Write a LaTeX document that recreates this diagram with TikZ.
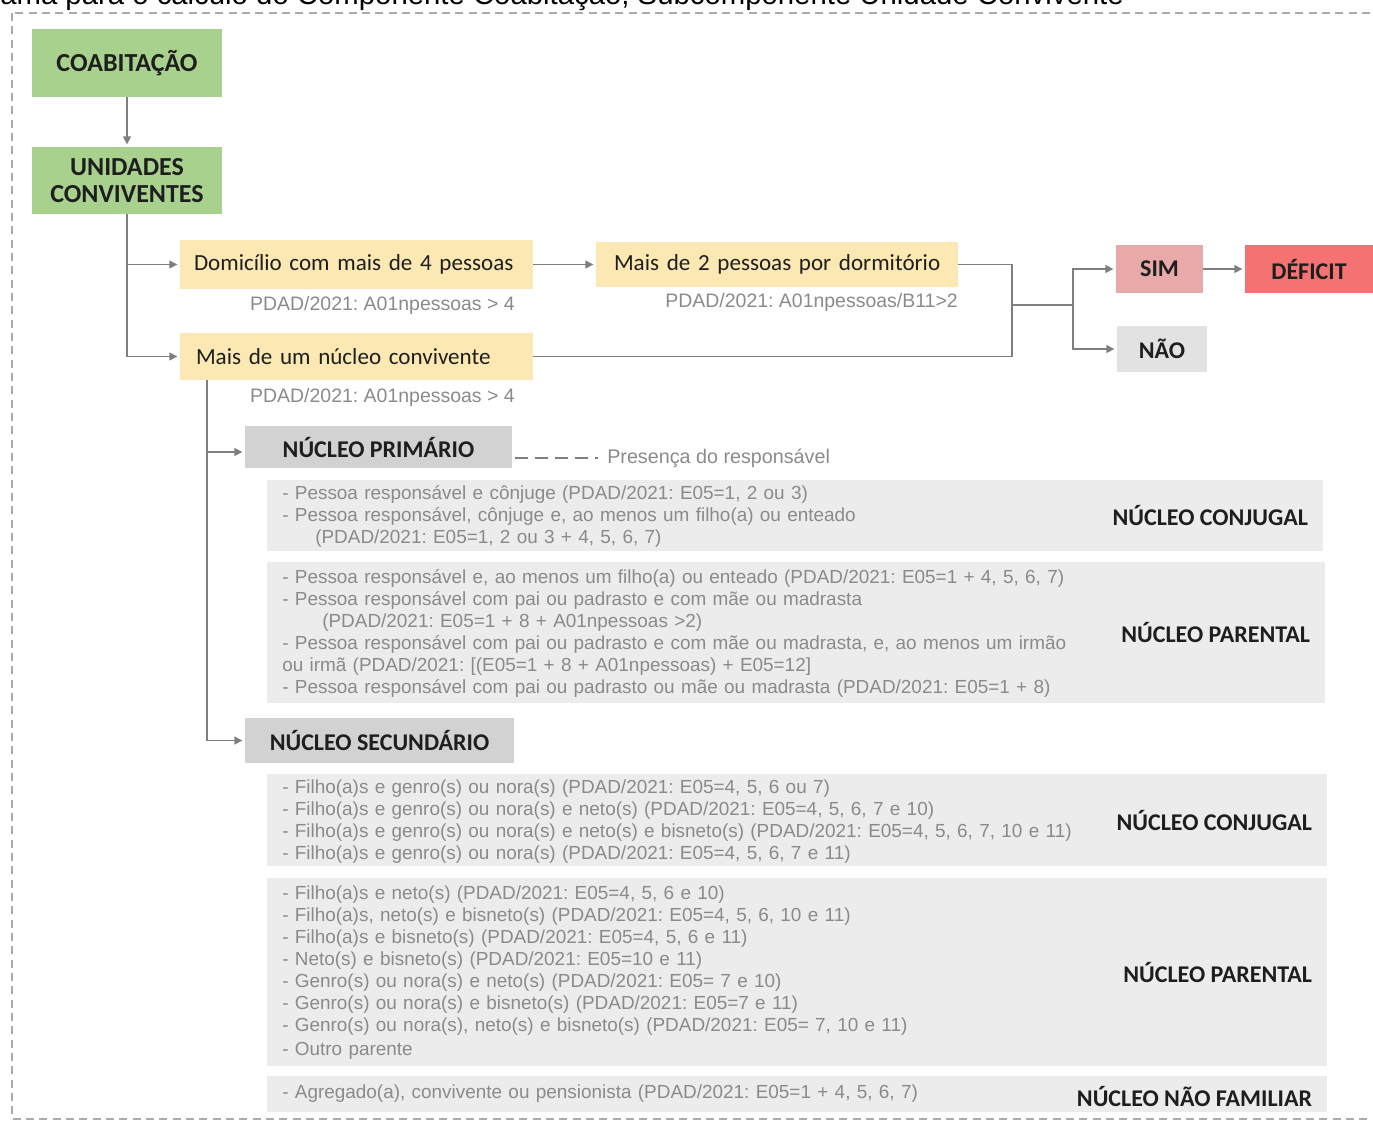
\documentclass[tikz,border=0pt]{standalone}
\usepackage{fontspec}
\setmainfont{Carlito}
\newfontfamily\narrowfont{Liberation Sans}
\newfontfamily\titlefont{Liberation Sans}
\usetikzlibrary{arrows.meta,calc}

\definecolor{boxgreen}{HTML}{A9D18E}
\definecolor{boxyellow}{HTML}{FCE8B2}
\definecolor{boxpink}{HTML}{E8A9A9}
\definecolor{boxred}{HTML}{F47272}
\definecolor{boxgrey}{HTML}{D2D2D2}
\definecolor{panelgrey}{HTML}{ECECEC}
\definecolor{naogrey}{HTML}{E2E2E2}
\definecolor{linegrey}{HTML}{7F7F7F}
\definecolor{notegrey}{HTML}{8A8A8A}
\definecolor{inkdark}{HTML}{1E1E1E}
\definecolor{framegrey}{HTML}{ABABAB}

% one drawing unit = one pixel of the 1373 x 1125 page
\newcommand{\pxl}[1]{#1*0.75pt}

\tikzset{
  base box/.style={rectangle, inner sep=0pt, outer sep=0pt, text=inkdark},
  headbox/.style={base box, fill=boxgreen, font=\fontsize{19.5pt}{21pt}\selectfont\bfseries, align=center},
  condbox/.style={base box, fill=boxyellow, font=\fontsize{17.3pt}{20pt}\selectfont,
    text width=\pxl{325}, align=left},
  tagbox/.style={base box, font=\fontsize{18pt}{21pt}\selectfont\bfseries},
  nucbox/.style={base box, fill=boxgrey, font=\fontsize{18pt}{21pt}\selectfont\bfseries},
  panel/.style={base box, fill=panelgrey},
  paneltext/.style={inner sep=0pt, anchor=base west, text=notegrey, align=left,
    text width=\pxl{900}, font=\narrowfont\frenchspacing\fontsize{14.2pt}{16.5pt}\selectfont},
  panellabel/.style={inner sep=0pt, anchor=east, xshift=-11pt, text=inkdark,
    font=\fontsize{18pt}{21pt}\selectfont\bfseries},
  note/.style={inner sep=0pt, text=notegrey, font=\narrowfont\frenchspacing\fontsize{14.6pt}{16pt}\selectfont},
  conn/.style={draw=linegrey, line width=1.1pt},
  arr/.style={conn, -{Triangle[length=6pt,width=6pt]}, shorten >=2pt},
  dashline/.style={draw=linegrey, line width=1pt, dash pattern=on 9.75pt off 5.25pt},
}

\begin{document}
\begin{tikzpicture}[x=0.75pt,y=-0.75pt]
\useasboundingbox (0,0) rectangle (1373,1125);
\clip (0,0) rectangle (1373,1125);

% caption running above the frame
\node[inner sep=0pt, anchor=base west, font=\titlefont\fontsize{22pt}{26pt}\selectfont] (caption) at (0,4)
  {ama para o cálculo do Componente Coabitação, Subcomponente Unidade Convivente};

% dashed frame (its right side runs past the page edge)
\draw[draw=framegrey, line width=1pt, dash pattern=on 6pt off 4pt] (12,13) rectangle (1385,1119);

% top of the flow
\node[headbox, minimum width=\pxl{190}, minimum height=\pxl{68}] (coab) at (127,63) {COABITAÇÃO};
\node[headbox, minimum width=\pxl{190}, minimum height=\pxl{67}] (unid) at (127,180.5) {UNIDADES\\[-1pt]CONVIVENTES};

% conditions
\node[condbox, minimum width=\pxl{353}, minimum height=\pxl{49}] (dom) at (356.5,264.5) {\mbox{Domicílio com mais de 4 pessoas}};
\node[condbox, minimum width=\pxl{362}, minimum height=\pxl{45}, text width=\pxl{326}] (m2) at (777,264.5) {\mbox{Mais de 2 pessoas por dormitório}};
\node[condbox, minimum width=\pxl{353}, minimum height=\pxl{47}, text width=\pxl{321}] (mnuc) at (356.5,356.5) {\mbox{Mais de um núcleo convivente}};

\node[note, anchor=east] (domnote) at (515,305) {PDAD/2021: A01npessoas > 4};
\node[note, anchor=east] (m2note) at (958,302) {PDAD/2021: A01npessoas/B11>2};
\node[note, anchor=east] (mnucnote) at (515,397) {PDAD/2021: A01npessoas > 4};

% outcomes
\node[tagbox, fill=boxpink, minimum width=\pxl{87}, minimum height=\pxl{48}] (sim) at (1159.5,269) {SIM};
\node[tagbox, fill=boxred, minimum width=\pxl{128}, minimum height=\pxl{48}] (def) at (1309,269) {DÉFICIT};
\node[tagbox, fill=naogrey, minimum width=\pxl{90}, minimum height=\pxl{46}] (nao) at (1162,349) {NÃO};

% nuclei headers
\node[nucbox, minimum width=\pxl{267}, minimum height=\pxl{42}] (prim) at (378.5,447) {NÚCLEO PRIMÁRIO};
\node[nucbox, minimum width=\pxl{269}, minimum height=\pxl{45}] (sec) at (379.5,740.5) {NÚCLEO SECUNDÁRIO};
\node[note, anchor=west, font=\narrowfont\fontsize{14.8pt}{16pt}\selectfont] (pres) at (607,458) {Presença do responsável};

% grey panels
\node[panel, minimum width=\pxl{1056}, minimum height=\pxl{71}] (p1) at (795,515.5) {};
\node[panel, minimum width=\pxl{1058}, minimum height=\pxl{141}] (p2) at (796,632.5) {};
\node[panel, minimum width=\pxl{1060}, minimum height=\pxl{92}] (p3) at (797,820) {};
\node[panel, minimum width=\pxl{1060}, minimum height=\pxl{188}] (p4) at (797,972) {};
\node[panel, minimum width=\pxl{1060}, minimum height=\pxl{36}] (p5) at (797,1094) {};

\node[paneltext] (t1) at (282,499) {%
- Pessoa responsável e cônjuge (PDAD/2021: E05=1, 2 ou 3)\\
- Pessoa responsável, cônjuge e, ao menos um filho(a) ou enteado\\
\hspace*{24.75pt}(PDAD/2021: E05=1, 2 ou 3 + 4, 5, 6, 7)};
\node[paneltext] (t2) at (282,583) {%
- Pessoa responsável e, ao menos um filho(a) ou enteado (PDAD/2021: E05=1 + 4, 5, 6, 7)\\
- Pessoa responsável com pai ou padrasto e com mãe ou madrasta\\
\hspace*{30pt}(PDAD/2021: E05=1 + 8 + A01npessoas >2)\\
- Pessoa responsável com pai ou padrasto e com mãe ou madrasta, e, ao menos um irmão\\
ou irmã (PDAD/2021: [(E05=1 + 8 + A01npessoas) + E05=12]\\
- Pessoa responsável com pai ou padrasto ou mãe ou madrasta (PDAD/2021: E05=1 + 8)};
\node[paneltext] (t3) at (282,793) {%
- Filho(a)s e genro(s) ou nora(s) (PDAD/2021: E05=4, 5, 6 ou 7)\\
- Filho(a)s e genro(s) ou nora(s) e neto(s) (PDAD/2021: E05=4, 5, 6, 7 e 10)\\
- Filho(a)s e genro(s) ou nora(s) e neto(s) e bisneto(s) (PDAD/2021: E05=4, 5, 6, 7, 10 e 11)\\
- Filho(a)s e genro(s) ou nora(s) (PDAD/2021: E05=4, 5, 6, 7 e 11)};
\node[paneltext] (t4) at (282,899) {%
- Filho(a)s e neto(s) (PDAD/2021: E05=4, 5, 6 e 10)\\
- Filho(a)s, neto(s) e bisneto(s) (PDAD/2021: E05=4, 5, 6, 10 e 11)\\
- Filho(a)s e bisneto(s) (PDAD/2021: E05=4, 5, 6 e 11)\\
- Neto(s) e bisneto(s) (PDAD/2021: E05=10 e 11)\\
- Genro(s) ou nora(s) e neto(s) (PDAD/2021: E05= 7 e 10)\\
- Genro(s) ou nora(s) e bisneto(s) (PDAD/2021: E05=7 e 11)\\
- Genro(s) ou nora(s), neto(s) e bisneto(s) (PDAD/2021: E05= 7, 10 e 11)\\[1.5pt]
- Outro parente};
\node[paneltext] (t5) at (282,1098) {%
- Agregado(a), convivente ou pensionista (PDAD/2021: E05=1 + 4, 5, 6, 7)};

\node[panellabel] (l1) at (p1.east) {NÚCLEO CONJUGAL};
\node[panellabel] (l2) at (p2.east) {NÚCLEO PARENTAL};
\node[panellabel] (l3) at (p3.east) {NÚCLEO CONJUGAL};
\node[panellabel] (l4) at (p4.east) {NÚCLEO PARENTAL};
\node[panellabel] (l5) at ($(p5.east)+(0,2)$) {NÚCLEO NÃO FAMILIAR};

% junction points of the elbow connectors
\coordinate (join) at (1012,305);
\coordinate (fork) at (1073,305);
\coordinate (trunk) at (207,380);
\coordinate (dashstart) at (515,458);

% connectors
\draw[arr] (coab) -- (unid);
\draw[arr] (unid.south) |- (dom.west);
\draw[arr] (unid.south) |- (mnuc.west);
\draw[arr] (dom) -- (m2);
\draw[conn] (m2.east) -| (join) |- (mnuc.east);
\draw[conn] (join) -- (fork);
\draw[arr] (fork) |- (sim.west);
\draw[arr] (fork) |- (nao.west);
\draw[arr] (sim) -- (def);
\draw[arr] (trunk) |- ($(prim.west)+(0,5)$);
\draw[arr] (trunk) |- (sec.west);
\draw[dashline] (dashstart) -- ($(pres.west)+(-9,0)$);
\end{tikzpicture}
\end{document}
